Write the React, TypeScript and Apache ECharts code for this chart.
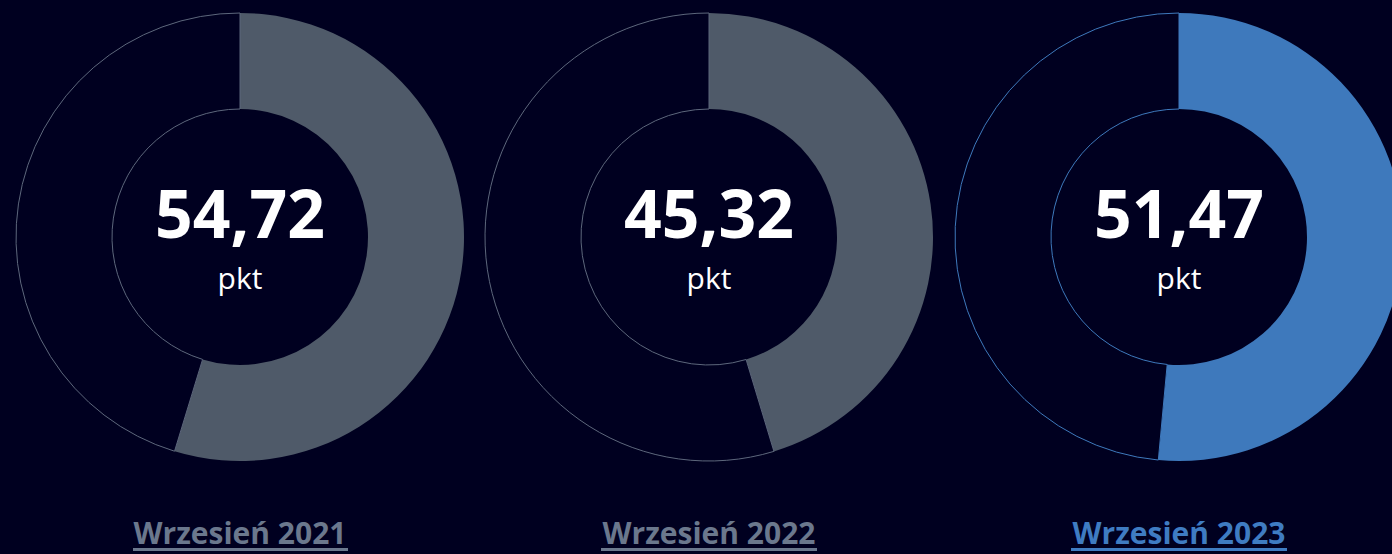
import React, { useEffect, useRef } from "react";
import * as echarts from "echarts";

const periods = ["Wrzesień 2021", "Wrzesień 2022", "Wrzesień 2023"];
const scores = [54.72, 45.32, 51.47];
const scoreLabels = ["54,72", "45,32", "51,47"];
const unitLabel = "pkt";
const maxScore = 100;

const BG = "#000020";
const fillColors = ["#4f5a69", "#4f5a69", "#3e79bc"];
const outlineColors = ["#5d677c", "#5d677c", "#3e79bc"];
const labelColors = ["#6b788d", "#6b788d", "#3f7cc2"];
const centersX = [240, 709, 1179];
const centerY = 237;
const underlineX = [[133, 348], [601, 817], [1071, 1287]];

export default function App() {
  const ref = useRef<HTMLDivElement>(null);
  useEffect(() => {
    document.body.style.margin = "0";
    document.body.style.background = BG;
    const chart = echarts.init(ref.current!, undefined, { renderer: "svg" });
    const series: any[] = scores.map((v, i) => ({
      type: "pie",
      center: [centersX[i], centerY],
      radius: [128, 224],
      startAngle: 90,
      clockwise: true,
      silent: true,
      label: { show: false },
      labelLine: { show: false },
      emphasis: { disabled: true },
      data: [
        { value: v, itemStyle: { color: fillColors[i], borderWidth: 0 } },
        {
          value: maxScore - v,
          itemStyle: { color: BG, borderColor: outlineColors[i], borderWidth: 1 },
        },
      ],
    }));
    const graphics: any[] = [];
    scores.forEach((_, i) => {
      graphics.push({
        type: "text",
        x: centersX[i],
        y: 212,
        style: {
          text: scoreLabels[i],
          fill: "#ffffff",
          font: "bold 66px 'Open Sans', sans-serif",
          textAlign: "center",
          textVerticalAlign: "middle",
        },
      });
      graphics.push({
        type: "text",
        x: centersX[i],
        y: 277,
        style: {
          text: unitLabel,
          fill: "#ffffff",
          font: "30px 'Open Sans', sans-serif",
          textAlign: "center",
          textVerticalAlign: "middle",
        },
      });
      graphics.push({
        type: "text",
        x: centersX[i],
        y: 532,
        style: {
          text: periods[i],
          fill: labelColors[i],
          font: "bold 30px 'Open Sans', sans-serif",
          textAlign: "center",
          textVerticalAlign: "middle",
        },
      });
      graphics.push({
        type: "rect",
        shape: {
          x: underlineX[i][0],
          y: 548,
          width: underlineX[i][1] - underlineX[i][0],
          height: 3,
        },
        style: { fill: labelColors[i] },
      });
    });
    chart.setOption({
      animation: false,
      backgroundColor: BG,
      series,
      graphic: graphics,
    });
    return () => chart.dispose();
  }, []);
  return (
    <div
      ref={ref}
      style={{ position: "fixed", left: 0, top: 0, width: 1392, height: 554 }}
    />
  );
}
